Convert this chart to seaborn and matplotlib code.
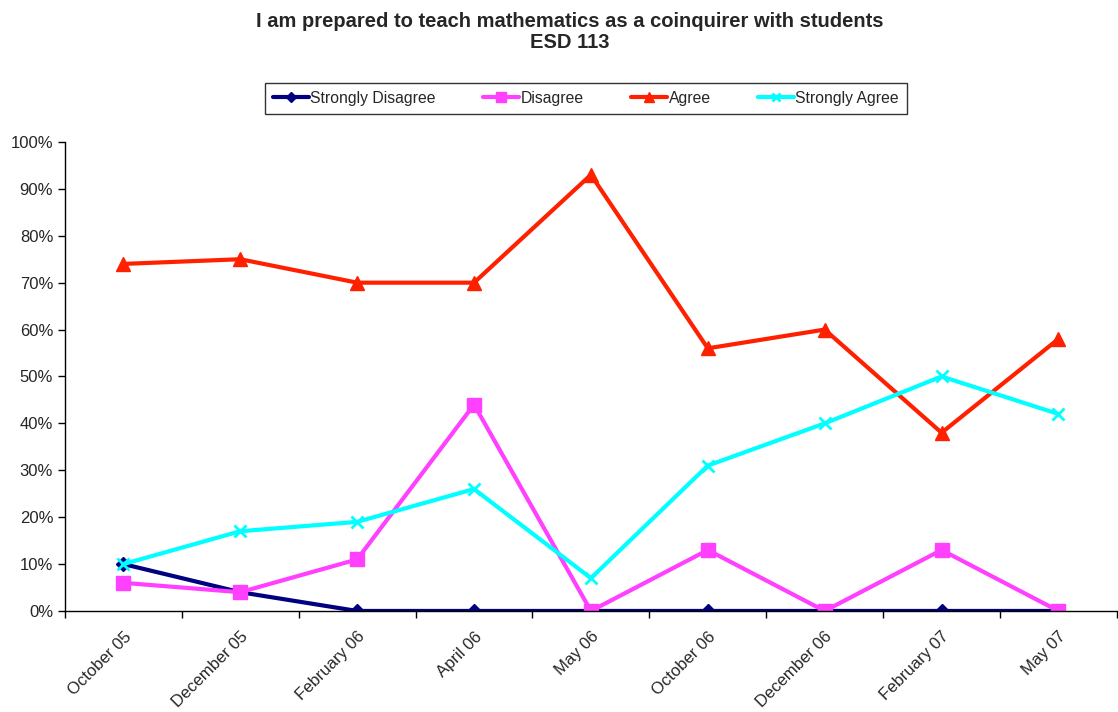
import matplotlib
matplotlib.use("Agg")
import matplotlib.pyplot as plt
import seaborn as sns
import pandas as pd
from matplotlib.ticker import FixedLocator, PercentFormatter

sns.set_theme(style="white")
plt.rcParams['font.family'] = ['Liberation Sans', 'DejaVu Sans']

categories = ["October 05", "December 05", "February 06", "April 06", "May 06",
              "October 06", "December 06", "February 07", "May 07"]
strongly_disagree = [10, 4, 0, 0, 0, 0, 0, 0, 0]
disagree = [6, 4, 11, 44, 0, 13, 0, 13, 0]
agree = [74, 75, 70, 70, 93, 56, 60, 38, 58]
strongly_agree = [10, 17, 19, 26, 7, 31, 40, 50, 42]

series = [
    ("Strongly Disagree", strongly_disagree, "#000080", "D", 7.5),
    ("Disagree", disagree, "#FF40FF", "s", 10),
    ("Agree", agree, "#FF2000", "^", 10),
    ("Strongly Agree", strongly_agree, "#00FFFF", "x", 8),
]

fig = plt.figure(figsize=(11.18, 7.12), dpi=100)
ax = fig.add_axes([0.0581, 0.1419, 0.9409, 0.6587])

for name, vals, color, marker, ms in series:
    df = pd.DataFrame({"cat": categories, "val": vals})
    sns.lineplot(data=df, x="cat", y="val", ax=ax, color=color, marker=marker,
                 markersize=ms, linewidth=3, label=name, sort=False,
                 markeredgecolor=color, markeredgewidth=2 if marker == "x" else 1)

ax.set_xlim(-0.5, len(categories) - 0.5)
ax.set_ylim(0, 100)
ax.set_yticks(range(0, 101, 10))
ax.yaxis.set_major_formatter(PercentFormatter(decimals=0))
ax.set_xlabel("")
ax.set_ylabel("")

ax.set_xticks(range(len(categories)))
ax.set_xticklabels(categories, rotation=45, ha="right", rotation_mode="anchor", fontsize=12)
ax.xaxis.set_minor_locator(FixedLocator([i - 0.5 for i in range(len(categories) + 1)]))
ax.tick_params(axis="x", which="major", length=0, pad=13)
ax.tick_params(axis="x", which="minor", length=5, width=1, color="black", direction="out", bottom=True)
ax.tick_params(axis="y", length=5, width=1, color="black", direction="out", left=True, labelsize=12)

for s in ["top", "right"]:
    ax.spines[s].set_visible(False)
for s in ["left", "bottom"]:
    ax.spines[s].set_color("black")
    ax.spines[s].set_linewidth(1)

handles, labels = ax.get_legend_handles_labels()
ax.get_legend().remove()
leg = fig.legend(handles, labels, ncol=4, loc="center", bbox_to_anchor=(0.524, 0.862),
                 frameon=True, fancybox=False, edgecolor="black", fontsize=11.3,
                 handlelength=2.3, handletextpad=0.1, columnspacing=3.0, borderpad=0.5,
                 borderaxespad=0, markerscale=0.7)
leg.get_frame().set_linewidth(1)

fig.text(0.51, 0.970, "I am prepared to teach mathematics as a coinquirer with students",
         ha="center", va="center", fontsize=14.5, fontweight="bold")
fig.text(0.51, 0.940, "ESD 113", ha="center", va="center", fontsize=14.5, fontweight="bold")

fig.savefig("out.png", dpi=100)
